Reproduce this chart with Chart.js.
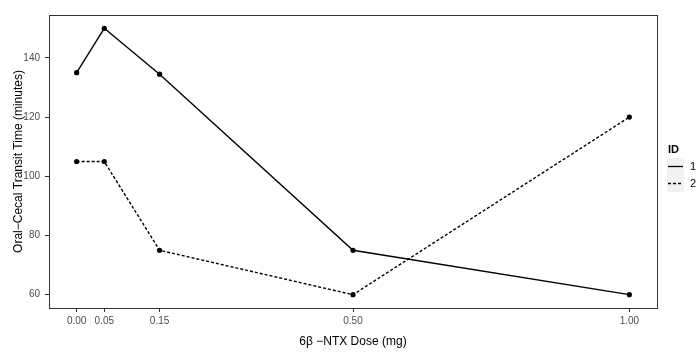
<!DOCTYPE html>
<html>
<head>
<meta charset="utf-8">
<script src="https://cdn.jsdelivr.net/npm/chart.js@4"></script>
<style>
  html, body { margin: 0; padding: 0; background: #fff; }
  #wrap { width: 700px; height: 353px; }
</style>
</head>
<body>
<div id="wrap"><canvas id="c" width="700" height="353"></canvas></div>
<script>
// data
const doses = [0, 0.05, 0.15, 0.5, 1];
const id1 = [135, 150, 134.5, 75, 60];
const id2 = [105, 105, 75, 60, 120];
const xTicks = [0, 0.05, 0.15, 0.5, 1];
const yTicks = [60, 80, 100, 120, 140];
const ids = ["1", "2"];

const FONT = "'Liberation Sans', Arial, sans-serif";

// panel border + ggplot-like legend on the right
const ggPanel = {
  id: "ggPanel",
  afterDraw(chart) {
    const { ctx, chartArea: a } = chart;
    ctx.save();
    ctx.strokeStyle = "#333333";
    ctx.lineWidth = 1;
    ctx.strokeRect(a.left + 0.5, a.top + 0.5, a.right - a.left, a.bottom - a.top);

    // legend
    const lx = a.right + 10;
    ctx.fillStyle = "#000";
    ctx.font = "bold 11px " + FONT;
    ctx.textBaseline = "middle";
    ctx.fillText("ID", lx + 1, 150);
    chart.data.datasets.forEach((ds, i) => {
      const ky = 158 + i * 17;
      ctx.fillStyle = "#f2f2f2";
      ctx.fillRect(lx, ky, 17, 17);
      ctx.strokeStyle = "#000";
      ctx.lineWidth = 1.3;
      ctx.setLineDash(ds.borderDash || []);
      ctx.beginPath();
      ctx.moveTo(lx + 1, ky + 8.5);
      ctx.lineTo(lx + 16, ky + 8.5);
      ctx.stroke();
      ctx.setLineDash([]);
      ctx.fillStyle = "#000";
      ctx.font = "11px " + FONT;
      ctx.fillText(ds.label, lx + 23, ky + 9);
    });
    ctx.restore();
  }
};

new Chart(document.getElementById("c"), {
  type: "line",
  data: {
    datasets: [
      {
        label: ids[0],
        data: doses.map((d, i) => ({ x: d, y: id1[i] })),
        borderColor: "#000",
        backgroundColor: "#000",
        borderWidth: 1.4,
        pointRadius: 2.6,
        pointBorderWidth: 0,
        tension: 0
      },
      {
        label: ids[1],
        data: doses.map((d, i) => ({ x: d, y: id2[i] })),
        borderColor: "#000",
        backgroundColor: "#000",
        borderWidth: 1.4,
        borderDash: [3, 2],
        pointRadius: 2.6,
        pointBorderWidth: 0,
        tension: 0
      }
    ]
  },
  options: {
    responsive: false,
    animation: false,
    layout: { padding: { left: 0, top: 15, right: 43, bottom: 0 } },
    plugins: { legend: { display: false }, tooltip: { enabled: false } },
    scales: {
      x: {
        type: "linear",
        min: -0.05,
        max: 1.05,
        afterBuildTicks: (s) => { s.ticks = xTicks.map(v => ({ value: v })); },
        afterFit: (s) => { s.height = 45; },
        grid: { display: true, drawOnChartArea: false, drawTicks: true, tickLength: 4, color: "#333333" },
        border: { display: false },
        ticks: {
          color: "#4d4d4d",
          font: { family: FONT, size: 10 },
          padding: 3,
          maxRotation: 0,
          callback: (v) => v.toFixed(2)
        },
        title: {
          display: true,
          text: "6\u03B2 \u2212NTX Dose (mg)",
          color: "#000",
          font: { family: FONT, size: 12 },
          padding: { top: 2, bottom: 4 }
        }
      },
      y: {
        min: 55.5,
        max: 154.5,
        afterBuildTicks: (s) => { s.ticks = yTicks.map(v => ({ value: v })); },
        afterFit: (s) => { s.width = 49; },
        grid: { display: true, drawOnChartArea: false, drawTicks: true, tickLength: 4, color: "#333333" },
        border: { display: false },
        ticks: {
          color: "#4d4d4d",
          font: { family: FONT, size: 10 },
          padding: 5
        },
        title: {
          display: true,
          text: "Oral\u2212Cecal Transit Time (minutes)",
          color: "#000",
          font: { family: FONT, size: 12 },
          padding: { top: 11, bottom: 4 }
        }
      }
    }
  },
  plugins: [ggPanel]
});
</script>
</body>
</html>
